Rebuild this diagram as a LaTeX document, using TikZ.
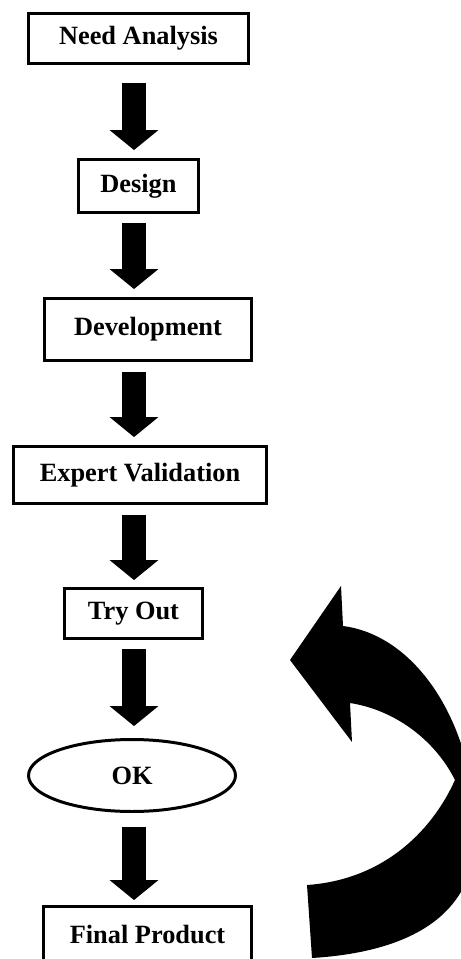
\documentclass[tikz,border=0pt]{standalone}
\usepackage{fontspec}
\setmainfont{Liberation Serif}
\usetikzlibrary{arrows.meta,shapes.geometric}

\tikzset{
  stage/.style={draw, line width=1.7pt, inner sep=2pt,
    font=\fontsize{15}{18}\selectfont\bfseries},
  flow/.style={line width=0.48cm,
    -{Triangle[width=0.98cm, length=0.4cm, line width=0pt]}},
}

\begin{document}
\begin{tikzpicture}[x=0.02cm, y=-0.02cm]
  \useasboundingbox (0,0) rectangle (460,959);
  \coordinate (axis) at (134,0);

  \node[stage, minimum width=4.40cm, minimum height=1.00cm] (need) at (138.5,38.5) {Need Analysis};
  \node[stage, minimum width=2.40cm, minimum height=1.06cm] (design) at (138.5,186) {Design};
  \node[stage, minimum width=4.14cm, minimum height=1.24cm] (devel) at (148,329.5) {Development};
  \node[stage, minimum width=5.06cm, minimum height=1.14cm] (expert) at (140,475) {Expert Validation};
  \node[stage, minimum width=2.76cm, minimum height=1.00cm] (tryout) at (133.5,613.5) {Try Out};
  \node[stage, ellipse, minimum width=4.14cm, minimum height=1.44cm] (ok) at (132,775.5) {OK};
  \node[stage, minimum width=4.16cm, minimum height=1.14cm] (final) at (147.5,935) {Final Product};

  \draw[flow, shorten <=0.36cm, shorten >=0.16cm] (need.south -| axis) -- (design.north -| axis);
  \draw[flow, shorten <=0.18cm, shorten >=0.16cm] (design.south -| axis) -- (devel.north -| axis);
  \draw[flow, shorten <=0.20cm, shorten >=0.16cm] (devel.south -| axis) -- (expert.north -| axis);
  \draw[flow, shorten <=0.20cm, shorten >=0.14cm] (expert.south -| axis) -- (tryout.north -| axis);
  \draw[flow, shorten <=0.18cm, shorten >=0.24cm] (tryout.south -| axis) -- (ok.north -| axis);
  \draw[flow, shorten <=0.28cm, shorten >=0.10cm] (ok.south -| axis) -- (final.north -| axis);

  % curved arrow back up
  \fill (290,660) -- (341,586) -- (343,626)
    .. controls (420,636) and (475,730) .. (475,830)
    .. controls (478,915) and (410,952) .. (312,958)
    -- (307,885)
    .. controls (380,880) and (430,835) .. (455,780)
    .. controls (435,740) and (395,710) .. (350,703)
    -- (352,742) -- cycle;
\end{tikzpicture}
\end{document}
